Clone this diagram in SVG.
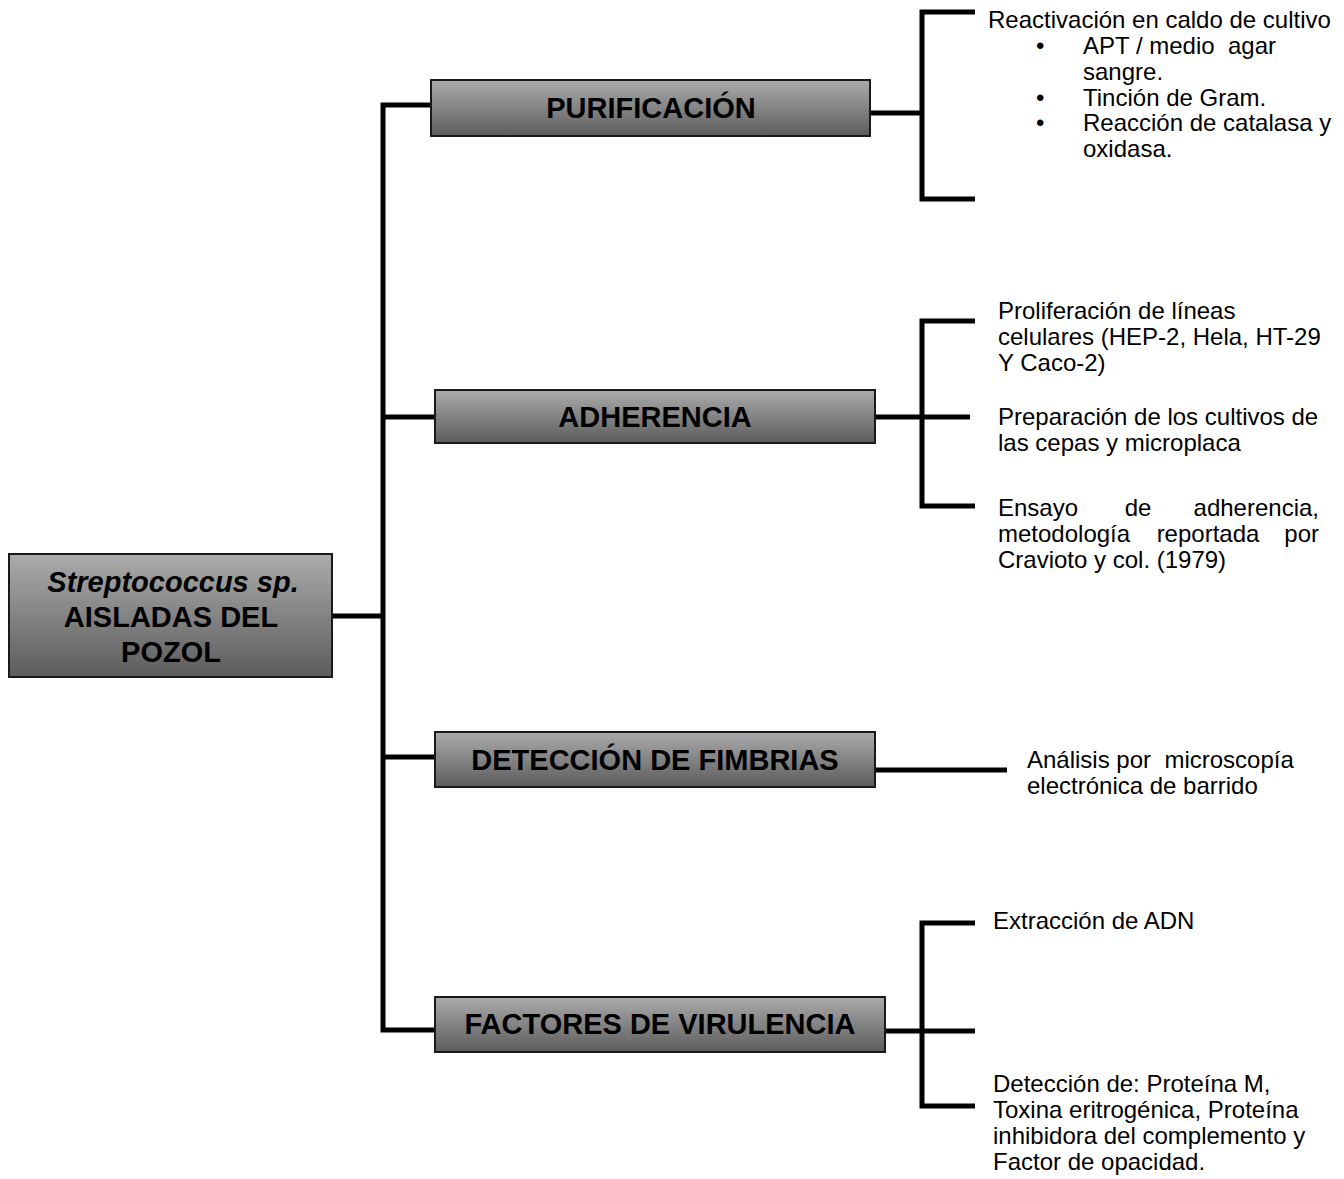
<svg xmlns="http://www.w3.org/2000/svg" width="1344" height="1179" viewBox="0 0 1344 1179">
<defs>
<linearGradient id="g" x1="0" y1="0" x2="0" y2="1">
<stop offset="0" stop-color="#ababab"/>
<stop offset="1" stop-color="#5c5c5c"/>
</linearGradient>
</defs>
<style>
.box{fill:url(#g);stroke:#1a1a1a;stroke-width:2}
.bt{font-family:"Liberation Sans",Arial,sans-serif;font-weight:bold;font-size:29px;fill:#000;text-anchor:middle}
.t{font-family:"Liberation Sans",Arial,sans-serif;font-size:24px;fill:#000;white-space:pre}
.ln{fill:none;stroke:#000;stroke-width:5;stroke-linejoin:miter;stroke-linecap:butt}
</style>
<rect width="1344" height="1179" fill="#fff"/>
<g id="connectors">
<path class="ln" d="M332,616 H383"/>
<path class="ln" d="M431,105 H383 V1030 H435"/>
<path class="ln" d="M383,417 H435"/>
<path class="ln" d="M383,757 H435"/>
<path class="ln" d="M870,113 H922"/>
<path class="ln" d="M975,12 H922 V199 H975"/>
<path class="ln" d="M875,417 H970"/>
<path class="ln" d="M975,321 H922 V506 H975"/>
<path class="ln" d="M875,770 H1007"/>
<path class="ln" d="M885,1031 H975"/>
<path class="ln" d="M975,923 H922 V1106 H975"/>
</g>
<g id="root">
<rect class="box" x="9" y="554" width="323" height="123"/>
<text class="bt" x="173" y="592" font-style="italic">Streptococcus sp.</text>
<text class="bt" x="171" y="627">AISLADAS DEL</text>
<text class="bt" x="171" y="662">POZOL</text>
</g>
<g id="purificacion">
<rect class="box" x="431" y="80" width="439" height="56"/>
<text class="bt" x="651" y="118">PURIFICACIÓN</text>
</g>
<g id="adherencia">
<rect class="box" x="435" y="390" width="440" height="53"/>
<text class="bt" x="655" y="427">ADHERENCIA</text>
</g>
<g id="fimbrias">
<rect class="box" x="435" y="732" width="440" height="55"/>
<text class="bt" x="655" y="770">DETECCIÓN DE FIMBRIAS</text>
</g>
<g id="virulencia">
<rect class="box" x="435" y="997" width="450" height="55"/>
<text class="bt" x="660" y="1034">FACTORES DE VIRULENCIA</text>
</g>
<g id="purificacion-text">
<text class="t" x="988" y="28">Reactivación en caldo de cultivo</text>
<text class="t" x="1036" y="54">•</text>
<text class="t" x="1083" y="54" xml:space="preserve">APT / medio  agar</text>
<text class="t" x="1083" y="80">sangre.</text>
<text class="t" x="1036" y="106">•</text>
<text class="t" x="1083" y="106">Tinción de Gram.</text>
<text class="t" x="1036" y="131">•</text>
<text class="t" x="1083" y="131">Reacción de catalasa y</text>
<text class="t" x="1083" y="157">oxidasa.</text>
</g>
<g id="adherencia-text">
<text class="t" x="998" y="319">Proliferación de líneas</text>
<text class="t" x="998" y="345">celulares (HEP-2, Hela, HT-29</text>
<text class="t" x="998" y="371">Y Caco-2)</text>
<text class="t" x="998" y="425">Preparación de los cultivos de</text>
<text class="t" x="998" y="451">las cepas y microplaca</text>
<text class="t" x="998" y="516">Ensayo</text>
<text class="t" x="1138" y="516" text-anchor="middle">de</text>
<text class="t" x="1319" y="516" text-anchor="end">adherencia,</text>
<text class="t" x="998" y="542">metodología</text>
<text class="t" x="1208" y="542" text-anchor="middle">reportada</text>
<text class="t" x="1319" y="542" text-anchor="end">por</text>
<text class="t" x="998" y="568">Cravioto y col. (1979)</text>
</g>
<g id="fimbrias-text">
<text class="t" x="1027" y="768" xml:space="preserve">Análisis por  microscopía</text>
<text class="t" x="1027" y="794">electrónica de barrido</text>
</g>
<g id="virulencia-text">
<text class="t" x="993" y="929">Extracción de ADN</text>
<text class="t" x="993" y="1092">Detección de: Proteína M,</text>
<text class="t" x="993" y="1118">Toxina eritrogénica, Proteína</text>
<text class="t" x="993" y="1144">inhibidora del complemento y</text>
<text class="t" x="993" y="1170">Factor de opacidad.</text>
</g>
</svg>
